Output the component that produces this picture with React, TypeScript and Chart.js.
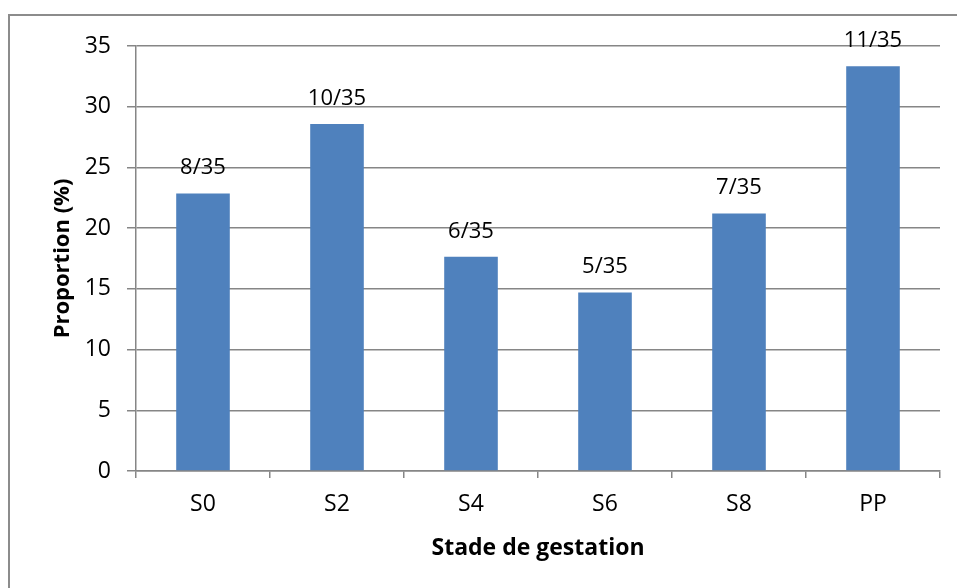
import React, { useEffect, useRef } from "react";
import { Chart, registerables } from "chart.js";

Chart.register(...registerables);

// Stades de gestation et proportions (%) observées
const stages = ["S0", "S2", "S4", "S6", "S8", "PP"];
const proportions = [22.86, 28.57, 17.65, 14.71, 21.21, 33.33];
const countLabels = ["8/35", "10/35", "6/35", "5/35", "7/35", "11/35"];
const yTicks = [0, 5, 10, 15, 20, 25, 30, 35];

const xTitle = "Stade de gestation";
const yTitle = "Proportion (%)";

const FONT = "'Open Sans', 'Noto Sans', sans-serif";
const GRID = "#868686";
const BAR = "#4F81BD";

// Count labels above each bar, plus the frame and both axis titles
const annotate = {
  id: "annotate",
  beforeDraw(chart: any) {
    const ctx = chart.ctx;
    ctx.save();
    ctx.strokeStyle = "#8C8C8C";
    ctx.lineWidth = 2;
    ctx.beginPath();
    ctx.moveTo(9, chart.height + 5);
    ctx.lineTo(9, 15);
    ctx.lineTo(chart.width + 5, 15);
    ctx.stroke();
    ctx.restore();
  },
  afterDatasetsDraw(chart: any) {
    const ctx = chart.ctx;
    const meta = chart.getDatasetMeta(0);
    ctx.save();
    ctx.fillStyle = "#000";
    ctx.font = `22px ${FONT}`;
    ctx.textAlign = "center";
    ctx.textBaseline = "alphabetic";
    meta.data.forEach((bar: any, i: number) => {
      ctx.fillText(countLabels[i], bar.x, bar.y - 19);
    });
    ctx.restore();
  },
  afterDraw(chart: any) {
    const ctx = chart.ctx;
    const area = chart.chartArea;
    ctx.save();
    ctx.fillStyle = "#000";
    ctx.textAlign = "center";
    ctx.textBaseline = "middle";
    ctx.font = `bold 23px ${FONT}`;
    ctx.fillText(xTitle, (area.left + area.right) / 2, area.bottom + 77);
    ctx.font = `bold 22px ${FONT}`;
    ctx.translate(area.left - 73, (area.top + area.bottom) / 2);
    ctx.rotate(-Math.PI / 2);
    ctx.fillText(yTitle, 0, 0);
    ctx.restore();
  },
};

export default function App() {
  const ref = useRef<HTMLCanvasElement | null>(null);

  useEffect(() => {
    if (!ref.current) return;
    const chart = new Chart(ref.current, {
      type: "bar",
      data: {
        labels: stages,
        datasets: [
          {
            data: proportions,
            backgroundColor: BAR,
            borderWidth: 0,
            categoryPercentage: 1,
            barPercentage: 0.4,
          },
        ],
      },
      options: {
        responsive: false,
        animation: false,
        layout: { padding: { left: 0, top: 46, right: 17, bottom: 0 } },
        plugins: {
          legend: { display: false },
          tooltip: { enabled: false },
        },
        scales: {
          x: {
            grid: {
              drawOnChartArea: false,
              drawTicks: true,
              tickLength: 7,
              color: GRID,
              lineWidth: 1.5,
            },
            border: { color: GRID, width: 1.5 },
            ticks: {
              color: "#000",
              font: { family: FONT, size: 23 },
              padding: 13,
            },
            afterFit(scale: any) {
              scale.height = 117;
            },
          },
          y: {
            min: 0,
            max: 35,
            afterBuildTicks(scale: any) {
              scale.ticks = yTicks.map((v) => ({ value: v }));
            },
            grid: {
              color: GRID,
              lineWidth: 1.5,
              tickLength: 9,
            },
            border: { color: GRID, width: 1.5 },
            ticks: {
              color: "#000",
              font: { family: FONT, size: 23 },
              padding: 16,
            },
            afterFit(scale: any) {
              scale.width = 136;
            },
          },
        },
      },
      plugins: [annotate],
    });
    return () => chart.destroy();
  }, []);

  return (
    <div style={{ position: "absolute", left: 0, top: 0, width: 957, height: 588, background: "#fff" }}>
      <canvas ref={ref} width={957} height={588} />
    </div>
  );
}
